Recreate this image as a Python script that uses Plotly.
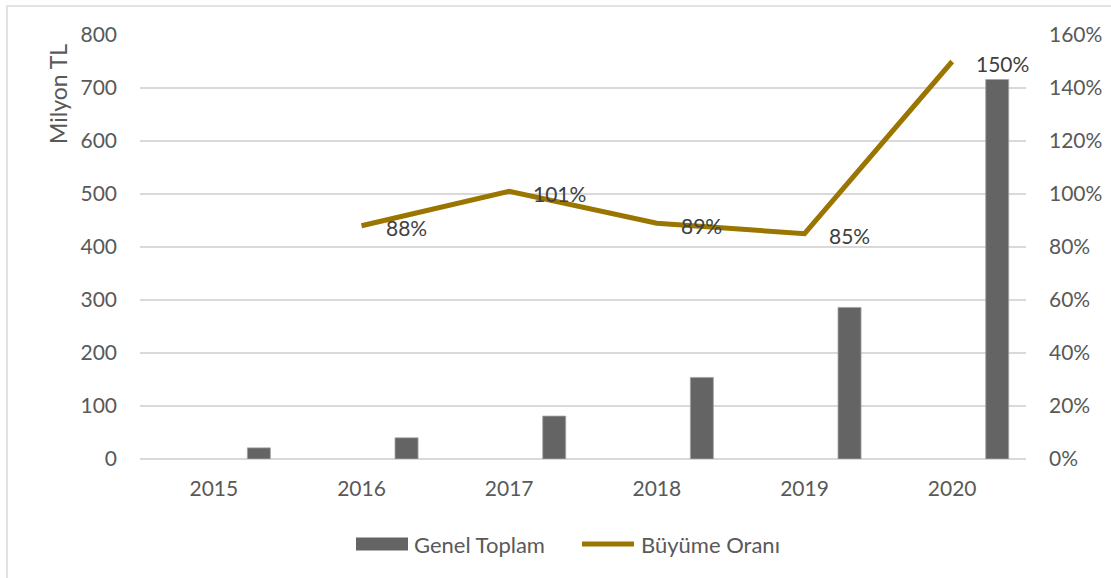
import plotly.graph_objects as go

# Yearly totals (million TL) and year-over-year growth
years = ["2015", "2016", "2017", "2018", "2019", "2020"]
genel_toplam = [21, 40, 81, 154, 286, 716]
growth_years = ["2016", "2017", "2018", "2019", "2020"]
buyume_orani = [0.88, 1.01, 0.89, 0.85, 1.50]

left_ticks = [0, 100, 200, 300, 400, 500, 600, 700, 800]
right_ticks = [0, 0.2, 0.4, 0.6, 0.8, 1.0, 1.2, 1.4, 1.6]

BAR_COLOR = "#646464"
LINE_COLOR = "#9A7500"
TICK_COLOR = "#595959"
LABEL_COLOR = "#404040"
GRID_COLOR = "#D9D9D9"
FONT = "Lato"

W, H = 1111, 578
ML, MR, MT, MB = 140, 85, 35, 119
PW, PH = W - ML - MR, H - MT - MB


def px_x(px):
    return (px - ML) / PW


def px_y(py):
    return (H - MB - py) / PH


fig = go.Figure()

fig.add_trace(go.Bar(
    x=years, y=genel_toplam, name="Genel Toplam",
    width=0.156, offset=0.227,
    marker=dict(color=BAR_COLOR, line=dict(color="#A6A6A6", width=0.8)),
    showlegend=False, hoverinfo="skip",
))

fig.add_trace(go.Scatter(
    x=growth_years, y=buyume_orani, name="Büyüme Oranı", yaxis="y2",
    mode="lines", line=dict(color=LINE_COLOR, width=5),
    showlegend=False, hoverinfo="skip",
))

# Data labels to the right of each growth point (category axis -> index)
for yr, v in zip(growth_years, buyume_orani):
    fig.add_annotation(
        x=years.index(yr), y=v, xref="x", yref="y2", text=f"{v:.0%}",
        showarrow=False, xanchor="left", yanchor="middle",
        xshift=22, yshift=-2,
        font=dict(family=FONT, size=21, color=LABEL_COLOR),
    )

# Axis title placed near the top of the left axis
fig.add_annotation(
    x=px_x(58), y=px_y(94), xref="paper", yref="paper",
    text="Milyon TL", textangle=-90, showarrow=False,
    xanchor="center", yanchor="middle",
    font=dict(family=FONT, size=23, color=TICK_COLOR),
)

# Legend drawn as swatches with text
legend_y = 544
fig.add_shape(type="rect", xref="paper", yref="paper",
              x0=px_x(356), x1=px_x(408), y0=px_y(550.5), y1=px_y(537.5),
              fillcolor=BAR_COLOR, line=dict(width=0))
fig.add_annotation(x=px_x(412), y=px_y(legend_y), xref="paper", yref="paper",
                   text="Genel Toplam", showarrow=False, xanchor="left",
                   yanchor="middle",
                   font=dict(family=FONT, size=22, color=TICK_COLOR))
fig.add_shape(type="line", xref="paper", yref="paper",
              x0=px_x(582), x1=px_x(634), y0=px_y(legend_y), y1=px_y(legend_y),
              line=dict(color=LINE_COLOR, width=5))
fig.add_annotation(x=px_x(639), y=px_y(legend_y), xref="paper", yref="paper",
                   text="Büyüme Oranı", showarrow=False, xanchor="left",
                   yanchor="middle",
                   font=dict(family=FONT, size=22, color=TICK_COLOR))

# Chart frame
fig.add_shape(type="rect", xref="paper", yref="paper",
              x0=px_x(7), x1=px_x(1120), y0=px_y(590), y1=px_y(6),
              line=dict(color=GRID_COLOR, width=1.5), fillcolor="rgba(0,0,0,0)",
              layer="below")

fig.update_layout(
    width=W, height=H,
    margin=dict(l=ML, r=MR, t=MT, b=MB, pad=0, autoexpand=False),
    paper_bgcolor="white", plot_bgcolor="white",
    font=dict(family=FONT, size=20, color=TICK_COLOR),
    showlegend=False,
    xaxis=dict(
        type="category", range=[-0.5, 5.5], automargin=False,
        showgrid=False, showline=False, zeroline=False,
        ticks="", ticklabelstandoff=15,
        tickfont=dict(family=FONT, size=21, color=TICK_COLOR),
    ),
    yaxis=dict(
        range=[0, 800], tickvals=left_ticks, automargin=False,
        showgrid=True, gridcolor=GRID_COLOR, gridwidth=1.5,
        zeroline=True, zerolinecolor=GRID_COLOR, zerolinewidth=1.5,
        showline=False, ticks="", ticklabelstandoff=22,
        tickfont=dict(family=FONT, size=21, color=TICK_COLOR),
    ),
    yaxis2=dict(
        overlaying="y", side="right", automargin=False,
        range=[0, 1.6], tickvals=right_ticks, tickformat=".0%",
        showgrid=False, zeroline=False, showline=False,
        ticks="", ticklabelstandoff=22,
        tickfont=dict(family=FONT, size=21, color=TICK_COLOR),
    ),
)

fig.write_html("out.html")
